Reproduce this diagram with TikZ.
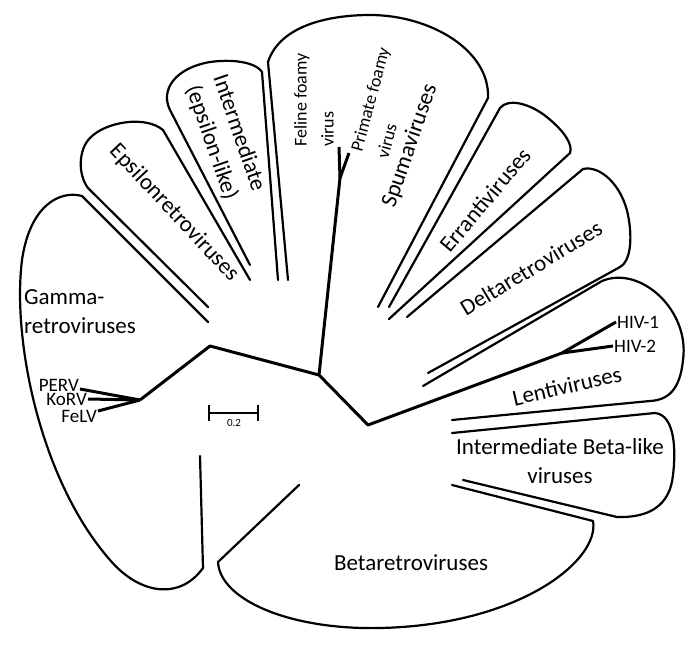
\documentclass[tikz,border=0pt]{standalone}
\usepackage{fontspec}
\setmainfont{Carlito}
\usetikzlibrary{positioning}

\begin{document}
\begin{tikzpicture}[
  x=1pt, y=-1pt,
  outline/.style={line width=2.2pt, line join=round, line cap=round},
  branch/.style={line width=3pt, line join=round},
  grouplabel/.style={font=\fontsize{23}{29}\selectfont, align=center, inner sep=0pt},
  foamylabel/.style={font=\fontsize{18}{27}\selectfont, align=left, inner sep=0pt},
  tiplabel/.style={font=\fontsize{19}{22}\selectfont, inner sep=1pt}
]
  \useasboundingbox (0,0) rectangle (700,650);

  \draw[outline] (208,322) -- (82,196) .. controls (60,190) and (30,205) .. (22,260)
    .. controls (12,340) and (40,480) .. (110,560) .. controls (140,595) and (180,600) .. (203,568) -- (200,456);
  \draw[outline] (208,307) -- (88,188) .. controls (78,175) and (78,150) .. (90,138)
    .. controls (105,122) and (145,115) .. (163,130) -- (250,280);
  \draw[outline] (250,265) -- (170,110) .. controls (160,90) and (175,68) .. (210,62)
    .. controls (240,58) and (258,65) .. (262,72) -- (278,280);
  \draw[outline] (288,280) -- (268,62) .. controls (280,25) and (330,15) .. (370,15)
    .. controls (430,15) and (490,50) .. (488,98) -- (378,307);
  \draw[outline] (389,307) -- (500,108) .. controls (508,98) and (530,103) .. (548,118)
    .. controls (565,132) and (573,145) .. (570,153) -- (389,319);
  \draw[outline] (407,317) -- (583,169) .. controls (600,165) and (622,185) .. (628,215)
    .. controls (633,240) and (630,262) .. (620,267) -- (428,373);
  \draw[outline] (423,386) -- (602,281) .. controls (640,265) and (690,310) .. (683,360)
    .. controls (680,390) and (668,400) .. (650,401) -- (452,420);
  \draw[outline] (452,433) -- (655,413) .. controls (675,415) and (676,450) .. (673,475)
    .. controls (670,505) and (650,518) .. (617,517) -- (463,480);
  \draw[outline] (452,485) -- (593,521) .. controls (600,560) and (520,625) .. (380,628)
    .. controls (290,630) and (220,600) .. (218,562) -- (299,485);

  \coordinate (root) at (319,375);
  \coordinate (spuma) at (340,178);
  \coordinate (ffv) at (339,147);
  \coordinate (pfv) at (349,153);
  \coordinate (gbend) at (210,346);
  \coordinate (gamma) at (140,400);
  \coordinate (perv) at (80,389);
  \coordinate (korv) at (88,399);
  \coordinate (felv) at (98,411);
  \coordinate (beta) at (368,425);
  \coordinate (lenti) at (562,353);
  \coordinate (hiv1) at (616,322);
  \coordinate (hiv2) at (613,346);

  \draw[branch] (ffv) -- (spuma) -- (root);
  \draw[branch] (pfv) -- (spuma);
  \draw[branch] (root) -- (gbend) -- (gamma);
  \draw[branch] (gamma) -- (perv);
  \draw[branch] (gamma) -- (korv);
  \draw[branch] (gamma) -- (felv);
  \draw[branch] (root) -- (beta) -- (lenti) -- (hiv1);
  \draw[branch] (lenti) -- (hiv2);

  \node[tiplabel, left=0pt of perv, yshift=4pt] (pervlab) {PERV};
  \node[tiplabel, left=0pt of korv] (korvlab) {KoRV};
  \node[tiplabel, left=0pt of felv, yshift=-5pt] (felvlab) {FeLV};
  \node[tiplabel, right=0pt of hiv1] (hiv1lab) {HIV-1};
  \node[tiplabel, right=0pt of hiv2] (hiv2lab) {HIV-2};

  \coordinate (barl) at (209,413);
  \coordinate (barr) at (258,413);
  \coordinate (barmid) at (234,413);
  \draw[outline, line cap=butt] (barl) -- (barr);
  \draw[outline, line cap=butt] ([yshift=8pt]barl) -- ([yshift=-8pt]barl);
  \draw[outline, line cap=butt] ([yshift=8pt]barr) -- ([yshift=-8pt]barr);
  \node[font=\fontsize{11}{13}\selectfont, inner sep=0pt, below=6pt of barmid] (barlab) {0.2};

  \node[grouplabel, align=left] (gammalab) at (80,312) {Gamma-\\retroviruses};
  \node[grouplabel, rotate=-47] (epsilab) at (174,213) {Epsilonretroviruses};
  \node[grouplabel, rotate=-71] (intlab) at (225,138) {Intermediate\\(epsilon-like)};
  \node[foamylabel, rotate=90] (ffvlab) at (314,100) {Feline foamy\\virus};
  \node[foamylabel, rotate=75] (pfvlab) at (383,103) {Primate foamy\\virus};
  \node[grouplabel, rotate=71] (spumalab) at (410,146) {Spumaviruses};
  \node[grouplabel, rotate=50] (errlab) at (485,200) {Errantiviruses};
  \node[grouplabel, rotate=31] (deltalab) at (531,268) {Deltaretroviruses};
  \node[grouplabel, rotate=13] (lentilab) at (567,386) {Lentiviruses};
  \node[grouplabel] (ibetalab) at (560,461) {Intermediate Beta-like\\viruses};
  \node[grouplabel] (betalab) at (411,563) {Betaretroviruses};
\end{tikzpicture}
\end{document}
